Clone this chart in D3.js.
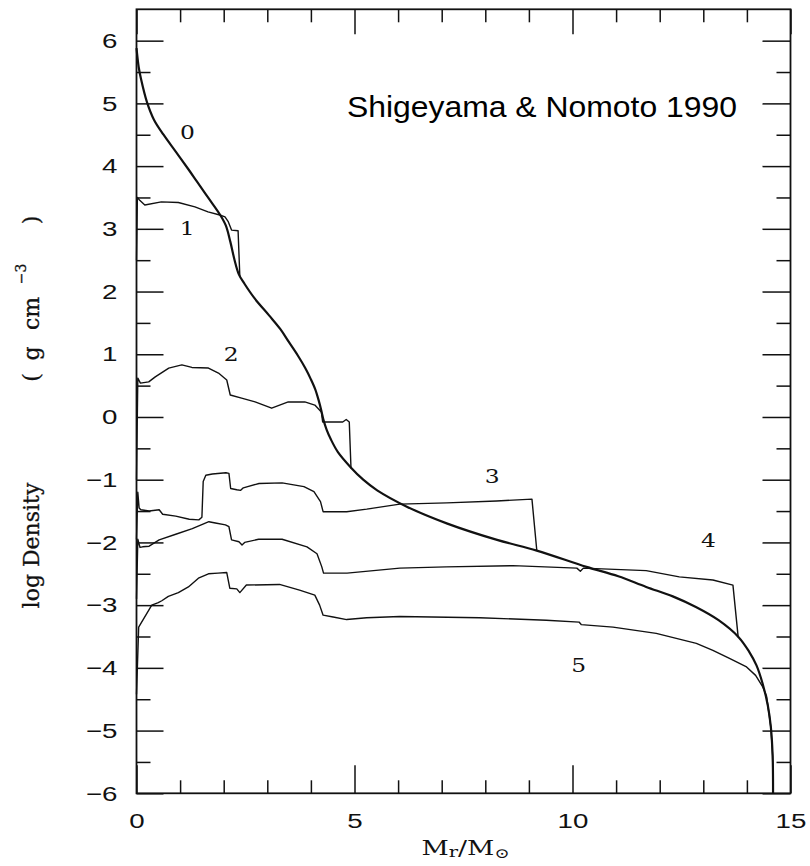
<!DOCTYPE html>
<html><head><meta charset="utf-8">
<script src="https://cdn.jsdelivr.net/npm/d3@7"></script>
<style>body{margin:0;background:#fff}svg{display:block}</style>
</head><body>
<svg id="c" width="810" height="866"></svg>
<script>
// ---- data (M_r/M_sun, log density) ----
const curve0 = [[0.0,5.88],[0.05,5.58],[0.1,5.4],[0.24,5.02],[0.4,4.74],[0.62,4.5],[0.9,4.23],[1.19,3.95],[1.38,3.76],[1.64,3.5],[1.92,3.22],[2.05,3.05],[2.15,2.8],[2.25,2.5],[2.35,2.27],[2.48,2.12],[2.71,1.89],[3.04,1.62],[3.3,1.4],[3.49,1.2],[3.7,0.98],[3.87,0.78],[4.0,0.6],[4.1,0.44],[4.18,0.26],[4.24,0.1],[4.29,-0.05],[4.36,-0.2],[4.46,-0.36],[4.62,-0.56],[4.91,-0.8],[5.2,-1.0],[5.52,-1.17],[6.2,-1.43],[7.13,-1.70],[8.27,-1.96],[9.18,-2.13],[10.32,-2.39],[11.05,-2.54],[11.69,-2.71],[12.3,-2.86],[12.83,-3.03],[13.35,-3.24],[13.81,-3.51],[14.05,-3.74],[14.22,-3.96],[14.36,-4.25],[14.48,-4.6],[14.55,-4.95],[14.59,-5.4],[14.6,-6.0]];
const curve1 = [[0.0,2.5],[0.02,3.5],[0.08,3.45],[0.19,3.38],[0.57,3.43],[0.96,3.42],[1.34,3.35],[1.64,3.27],[1.91,3.22],[2.03,3.19],[2.1,3.12],[2.18,2.98],[2.33,2.97],[2.37,2.24]];
const curve2 = [[0.0,-1.0],[0.03,0.62],[0.09,0.54],[0.28,0.56],[0.43,0.64],[0.74,0.78],[1.04,0.83],[1.27,0.79],[1.65,0.78],[1.88,0.70],[2.07,0.59],[2.15,0.35],[2.41,0.30],[2.72,0.24],[3.1,0.14],[3.48,0.24],[3.86,0.24],[4.09,0.19],[4.24,0.08],[4.27,-0.08],[4.73,-0.08],[4.81,-0.04],[4.88,-0.08],[4.92,-0.82]];
const curve3 = [[0.0,-1.95],[0.03,-1.2],[0.06,-1.45],[0.1,-1.48],[0.29,-1.5],[0.52,-1.48],[0.6,-1.55],[0.9,-1.58],[1.21,-1.63],[1.43,-1.64],[1.5,-1.6],[1.53,-1.03],[1.59,-0.93],[1.74,-0.91],[2.05,-0.89],[2.12,-0.9],[2.16,-1.14],[2.3,-1.16],[2.39,-1.17],[2.45,-1.13],[2.81,-1.06],[3.34,-1.05],[3.84,-1.11],[4.07,-1.19],[4.22,-1.35],[4.28,-1.51],[4.52,-1.51],[4.82,-1.51],[5.28,-1.47],[6.04,-1.39],[7.12,-1.37],[8.26,-1.34],[9.07,-1.31],[9.18,-2.12]];
const curve4 = [[0.0,-2.9],[0.03,-1.95],[0.08,-2.08],[0.14,-2.07],[0.29,-2.06],[0.52,-1.96],[0.9,-1.87],[1.28,-1.78],[1.66,-1.67],[1.81,-1.69],[2.04,-1.72],[2.12,-1.75],[2.18,-1.96],[2.35,-1.99],[2.42,-2.04],[2.48,-2.0],[2.8,-1.95],[3.34,-1.95],[3.91,-2.07],[4.14,-2.18],[4.25,-2.39],[4.29,-2.49],[4.83,-2.49],[6.04,-2.41],[7.1,-2.39],[8.63,-2.37],[10.1,-2.41],[10.18,-2.46],[10.25,-2.41],[11.69,-2.45],[12.45,-2.55],[13.22,-2.6],[13.68,-2.68],[13.8,-3.51]];
const curve5 = [[0.0,-4.42],[0.05,-3.35],[0.35,-3.0],[0.5,-2.96],[0.58,-2.93],[0.73,-2.86],[0.96,-2.8],[1.19,-2.71],[1.42,-2.57],[1.65,-2.5],[1.87,-2.49],[2.07,-2.48],[2.14,-2.73],[2.3,-2.74],[2.37,-2.8],[2.52,-2.68],[3.28,-2.67],[3.74,-2.76],[4.09,-2.84],[4.2,-3.0],[4.28,-3.16],[4.51,-3.19],[4.82,-3.23],[5.28,-3.2],[6.04,-3.18],[7.87,-3.2],[9.4,-3.24],[10.15,-3.27],[10.2,-3.31],[10.93,-3.35],[11.92,-3.45],[12.84,-3.61],[13.22,-3.72],[13.6,-3.85],[13.98,-3.98],[14.2,-4.12],[14.36,-4.3],[14.45,-4.45],[14.55,-4.95],[14.59,-5.4],[14.6,-6]];
const curveNames = ["0","1","2","3","4","5"];
const labelPos = [[1.17,4.53],[1.16,3.0],[2.17,1.0],[8.16,-0.95],[13.12,-1.97],[10.14,-3.96]];
const xMajor = [0,5,10,15];
const xMinor = [1,2,3,4,6,7,8,9,11,12,13,14];
const yMajor = [-6,-5,-4,-3,-2,-1,0,1,2,3,4,5,6];
const yMinor = [-5.5,-4.5,-3.5,-2.5,-1.5,-0.5,0.5,1.5,2.5,3.5,4.5,5.5];
const titleText = "Shigeyama & Nomoto 1990";

// ---- drawing ----
const svg = d3.select("#c");
svg.append("rect").attr("width",810).attr("height",866).attr("fill","#fff");
const L=136.5, R=790.5, T=9.3, B=793.3;
const x = d3.scaleLinear().domain([0,15]).range([L,R]);
const y = d3.scaleLinear().domain([-6,6.5]).range([B,T]);
const SX = 1.32;

function axisG(gen, tx, ty){
  const g = svg.append("g").attr("transform",`translate(${tx},${ty})`).call(gen);
  g.select(".domain").remove();
  g.selectAll(".tick line").attr("stroke","#111").attr("stroke-width",1.5);
  g.selectAll("text").attr("font-family","'Liberation Sans', Arial, sans-serif").attr("font-size",21).attr("fill","#111");
  return g;
}
const fmt = d3.format("d");
const gb = axisG(d3.axisBottom(x).tickValues(xMajor).tickSize(-28).tickPadding(20).tickFormat(fmt),0,B);
gb.selectAll("text").attr("transform",`scale(${SX},1)`).attr("x",0);
axisG(d3.axisBottom(x).tickValues(xMinor).tickSize(-13).tickFormat(""),0,B);
axisG(d3.axisTop(x).tickValues(xMajor).tickSize(-25).tickFormat(""),0,T);
axisG(d3.axisTop(x).tickValues(xMinor).tickSize(-13).tickFormat(""),0,T);
const gl = axisG(d3.axisLeft(y).tickValues(yMajor).tickSize(-27).tickPadding(19).tickFormat(fmt),L,0);
gl.selectAll("text").attr("transform",`translate(-19,0) scale(${SX},1) translate(19,0)`);
axisG(d3.axisLeft(y).tickValues(yMinor).tickSize(-14).tickFormat(""),L,0);
axisG(d3.axisRight(y).tickValues(yMajor).tickSize(-28).tickFormat(""),R,0);
axisG(d3.axisRight(y).tickValues(yMinor).tickSize(-14).tickFormat(""),R,0);

svg.append("rect").attr("x",L).attr("y",T).attr("width",R-L).attr("height",B-T)
  .attr("fill","none").attr("stroke","#111").attr("stroke-width",1.8);

const lineLin = d3.line().x(d=>x(d[0])).y(d=>y(d[1]));
const lineSmooth = d3.line().x(d=>x(d[0])).y(d=>y(d[1])).curve(d3.curveCatmullRom.alpha(0.5));
const curves = [curve0,curve1,curve2,curve3,curve4,curve5];
curves.forEach((c,i)=>{
  svg.append("path").attr("d",(i===0?lineSmooth:lineLin)(c)).attr("fill","none").attr("stroke","#111")
    .attr("stroke-width", i===0?2.2:1.4).attr("stroke-linejoin","round");
});

curveNames.forEach((t,i)=>{
  svg.append("text").attr("transform",`translate(${x(labelPos[i][0])},${y(labelPos[i][1])}) scale(1.3,1)`)
    .attr("text-anchor","middle").attr("dy","0.36em")
    .attr("font-family","'DejaVu Serif', serif").attr("font-size",18).attr("fill","#111").text(t);
});

// title
svg.append("text").attr("transform","translate(347,117.3) scale(1.1,1)")
  .attr("font-family","'Liberation Sans', Arial, sans-serif").attr("font-size",29).attr("fill","#000").text(titleText);

// x label
const xl = svg.append("text").attr("transform",`translate(${(L+R)/2+2},855) scale(1.3,1)`)
  .attr("text-anchor","middle").attr("font-family","'DejaVu Serif', serif").attr("font-size",20.5).attr("fill","#111");
xl.append("tspan").text("M");
xl.append("tspan").attr("font-size",15).attr("dy",2).text("r");
xl.append("tspan").attr("dy",-2).text("/M");
xl.append("tspan").attr("font-size",14).attr("dy",3).text("\u2299");

// y label (spaced pieces as in the original)
const yPieces = [["log Density",545.5,39,22],["(",377.5,39,22],["g",353.5,39,22],["cm",313.5,39,22],["\u22123",274,26,14],[")",220,39,22]];
yPieces.forEach(p=>{
  svg.append("text").attr("transform",`translate(${p[2]},${p[1]}) rotate(-90)`)
    .attr("text-anchor","middle").attr("font-family","'DejaVu Serif', serif").attr("font-size",p[3])
    .attr("fill","#111").attr("stroke","#111").attr("stroke-width",0.3).text(p[0]);
});
</script>
</body></html>
